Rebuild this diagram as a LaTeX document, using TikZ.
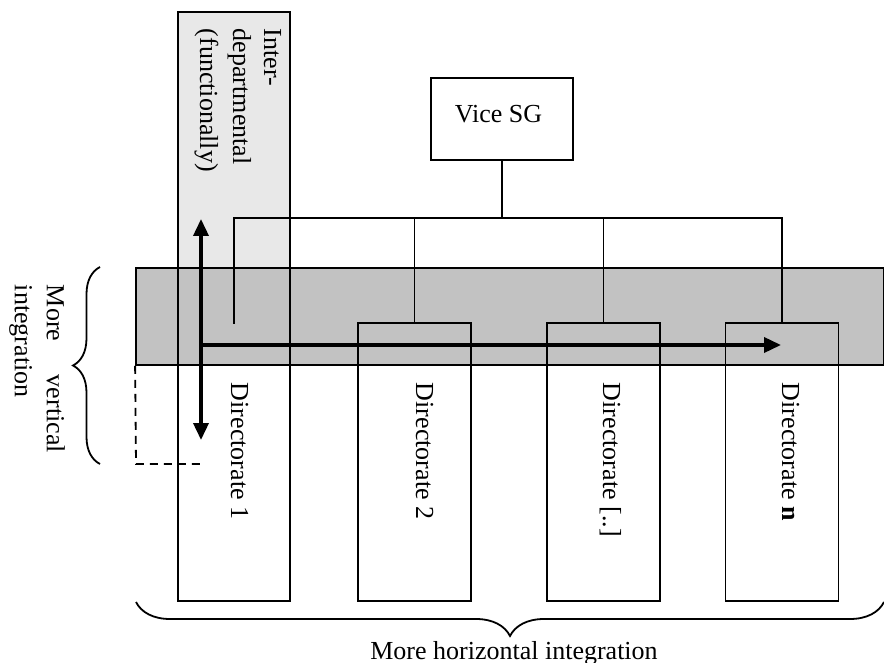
\documentclass[tikz,border=0pt]{standalone}
\usepackage{fontspec}
\setmainfont{Liberation Serif}
\usetikzlibrary{arrows.meta,decorations.pathreplacing}

\begin{document}
\begin{tikzpicture}[x=0.5pt,y=-0.5pt,
  line width=0.9pt,
  font=\fontsize{13}{15}\selectfont,
  unitbox/.style={draw, rectangle, inner sep=0, minimum width=56.5pt, minimum height=139pt},
  sidetext/.style={rotate=-90, anchor=base west, inner sep=0},
  plaintext/.style={anchor=base west, inner sep=0},
  flow/.style={line width=1.8pt, >={Triangle[length=8.5pt,width=7.5pt]}},
  bracemark/.style={decorate, decoration={brace, amplitude=#1}},
]
\useasboundingbox (0,0) rectangle (884,663);

% functional (inter-departmental) column, lightly shaded
\fill[gray!18] (178,12) rectangle (290,268);

% management band across all directorates
\node[fill=gray!48, draw, inner sep=0, minimum width=374pt, minimum height=48.5pt] (band) at (510,316.5) {};

% directorates
\node[draw, inner sep=0, minimum width=56pt, minimum height=294.5pt] (d1) at (234,306.5) {};
\node[unitbox] (d2) at (414.5,462) {};
\node[unitbox] (d3) at (603.5,462) {};
\node[unitbox] (dn) at (782,462) {};

% head of the hierarchy
\node[draw, inner sep=0, minimum width=71pt, minimum height=41pt] (vsg) at (502,119) {};
\node[plaintext] (vsgtext) at (454,123) {Vice SG};

% reporting lines
\coordinate (bus) at (502,218);
\coordinate (c1) at (234,324);
\draw (vsg.south) -- (bus);
\draw (c1) -- (c1 |- bus) -- (dn.north |- bus) -- (dn.north);
\draw (d2.north) -- (d2.north |- bus);
\draw (d3.north) -- (d3.north |- bus);

% labels
\node[sidetext] (t1a) at (264,28) {Inter-};
\node[sidetext] (t1b) at (233,28) {departmental};
\node[sidetext] (t1c) at (200,28) {(functionally)};

\node[sidetext] (l1) at (231,382) {Directorate 1};
\node[sidetext] (l2) at (416,382) {Directorate 2};
\node[sidetext] (l3) at (603,382) {Directorate [..]};
\node[sidetext] (ln) at (782,382) {Directorate \textbf{n}};

% integration arrows
\coordinate (vtop) at (201,219);
\coordinate (vbot) at (201,440);
\coordinate (hstart) at (201,345);
\coordinate (htip) at (781,345);
\draw[flow, <->] (vtop) -- (vbot);
\draw[flow, ->] (hstart) -- (htip);

% dashed extent of vertical integration
\coordinate (dcorner) at (136,464);
\coordinate (dend) at (200,464);
\draw[dashed, dash pattern=on 4pt off 3pt] (band.south west) -- (dcorner) -- (dend);

% vertical integration brace
\coordinate (lb1) at (100,464);
\coordinate (lb2) at (100,267);
\draw[bracemark=13.5pt] (lb1) -- (lb2);
\node[sidetext] (v1) at (47,284) {\hbox to 84pt{More\hfill vertical}};
\node[sidetext] (v2) at (15,284) {integration};

% horizontal integration brace
\coordinate (bb1) at (884,602);
\coordinate (bb2) at (136,602);
\draw[bracemark=17pt] (bb1) -- (bb2);
\node[anchor=base, inner sep=0] (htext) at (514,659) {More horizontal integration};
\end{tikzpicture}
\end{document}
